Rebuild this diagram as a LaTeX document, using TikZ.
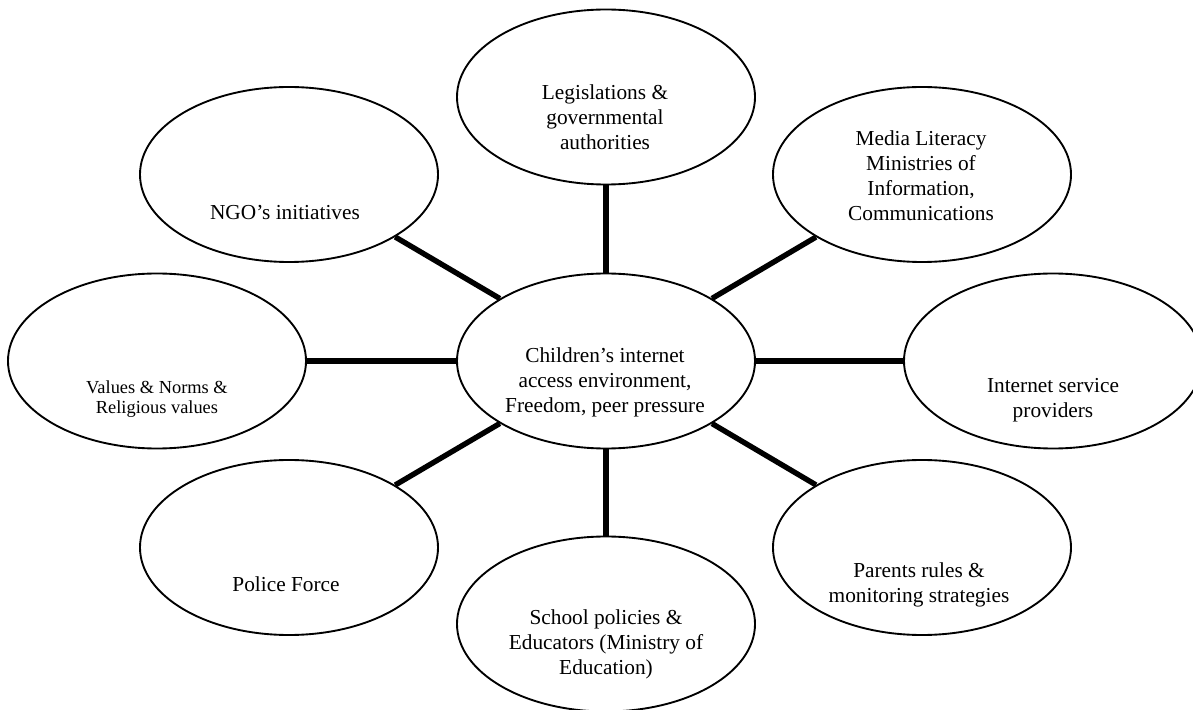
\documentclass[tikz,border=0pt]{standalone}
\usepackage{fontspec}
\setmainfont{Liberation Serif}
\usetikzlibrary{shapes.geometric}

\begin{document}
\begin{tikzpicture}[x=0.03cm,y=-0.03cm,
  every node/.style={font=\fontsize{18.2}{21.3}\selectfont},
  factor/.style={ellipse,draw,line width=1.6pt,minimum width=8.94cm,minimum height=5.25cm,inner sep=0pt},
  caption/.style={align=center,inner sep=0pt},
  link/.style={line width=4.6pt}]
\useasboundingbox (0,0) rectangle (1193,710);
% ellipses
\node[factor] (child) at (606,361) {};
\node[factor] (legis) at (606,97) {};
\node[factor] (media) at (922,174.5) {};
\node[factor] (isp) at (1053,361) {};
\node[factor] (parents) at (922,547.5) {};
\node[factor] (school) at (606,624) {};
\node[factor] (police) at (289,547.5) {};
\node[factor] (values) at (157,361) {};
\node[factor] (ngo) at (289,174.5) {};
% texts
\node[caption] (t-child) at (605,382) {Children’s internet\\access environment,\\Freedom, peer pressure};
\node[caption] (t-legis) at (605,117) {Legislations \&\\governmental\\authorities};
\node[caption] (t-media) at (921,176) {Media Literacy\\Ministries of\\Information,\\Communications};
\node[caption] (t-isp) at (1053,400) {Internet service\\providers};
\node[caption] (t-parents) at (919,585) {Parents rules \&\\monitoring strategies};
\node[caption] (t-school) at (606,644) {School policies \&\\Educators (Ministry of\\Education)};
\node[caption] (t-police) at (286,584) {Police Force};
\node[caption,font=\fontsize{15.7}{17.2}\selectfont] (t-values) at (157,399) {Values \& Norms \&\\Religious values};
\node[caption] (t-ngo) at (285,213) {NGO’s initiatives};
% connectors
\draw[link] (child) -- (legis);
\draw[link] (child) -- (media);
\draw[link] (child) -- (isp);
\draw[link] (child) -- (parents);
\draw[link] (child) -- (school);
\draw[link] (child) -- (police);
\draw[link] (child) -- (values);
\draw[link] (child) -- (ngo);
\end{tikzpicture}
\end{document}
